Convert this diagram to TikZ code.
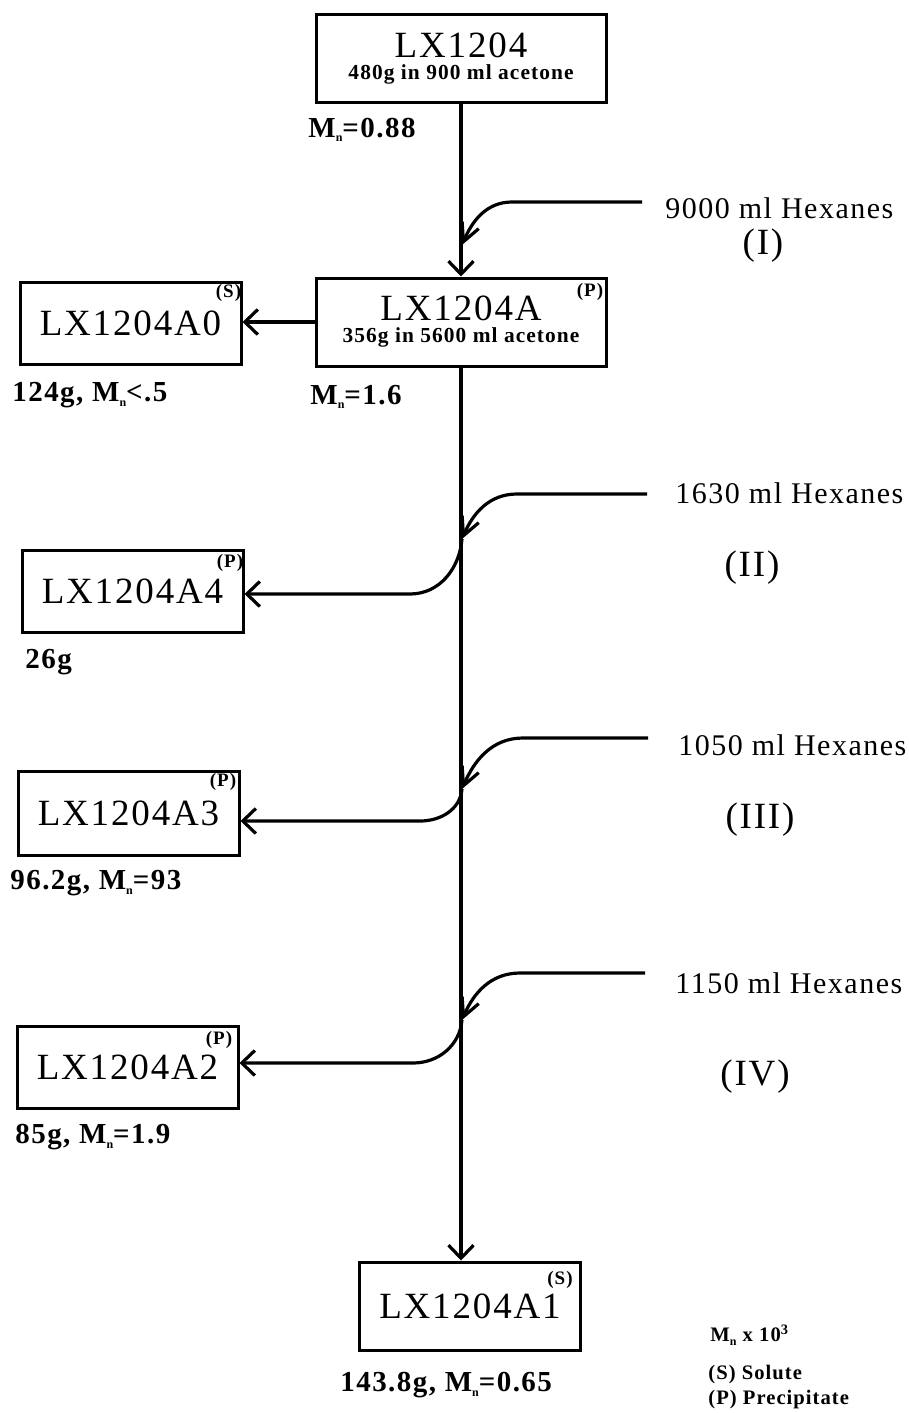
\documentclass[tikz,border=0pt]{standalone}
\usepackage{fontspec}
\setmainfont{Liberation Serif}[LetterSpace=5]
\usepackage{tikz}
\usetikzlibrary{arrows.meta,positioning,calc}
\newcommand{\Sz}[1]{\fontsize{#1}{#1}\selectfont}
\newcommand{\Mn}{M\raisebox{-0.35ex}{\Sz{6}n}}
\tikzset{
  frac/.style={draw, line width=1.5pt, inner sep=0pt, minimum width=110.5pt,
    minimum height=41pt, font=\Sz{18.5}},
  feed/.style={frac, minimum width=145pt, minimum height=44pt, align=center,
    font=\fontsize{18.5}{11}\selectfont},
  tag/.style={inner sep=0pt, anchor=north east, font=\bfseries\Sz{9.5}},
  note/.style={inner sep=0pt, anchor=west, font=\bfseries\Sz{14.5}},
  hexn/.style={inner sep=0pt, anchor=west, font=\Sz{15}},
  stage/.style={inner sep=0pt, font=\Sz{18.5}},
  legend/.style={inner sep=0pt, anchor=west, font=\bfseries\Sz{10.3}},
  flow/.style={line width=1.6pt, -{Straight Barb[length=6.5pt,width=12.5pt]}},
  addin/.style={line width=1.6pt, -{Straight Barb[length=9pt,width=9pt]}},
}

\begin{document}
\begin{tikzpicture}[x=0.5pt, y=-0.5pt]
  \useasboundingbox (0,0) rectangle (909,1413);

  \node[feed] (lx) at (461,59)
    {LX1204\\{\bfseries\Sz{10.7}480g in 900 ml acetone}};
  \node[feed] (lxA) at (461,322)
    {LX1204A\\{\bfseries\Sz{10.7}356g in 5600 ml acetone}};
  \node[frac] (a0) at (130.5,323) {LX1204A0};
  \node[frac] (a4) at (132.5,591) {LX1204A4};
  \node[frac, minimum height=42pt] (a3) at (128.5,813) {LX1204A3};
  \node[frac] (a2) at (127.5,1067) {LX1204A2};
  \node[frac, minimum height=44pt] (a1) at (470,1306) {LX1204A1};

  \node[tag] (lxAt) at ([xshift=-2pt,yshift=-3pt]lxA.north east) {(P)};
  \node[tag] (a0t) at ([xshift=-0.5pt,yshift=-1.6pt]a0.north east) {(S)};
  \node[tag] (a4t) at ([xshift=-0.5pt,yshift=-2.6pt]a4.north east) {(P)};
  \node[tag] (a3t) at ([xshift=-2pt,yshift=-1.6pt]a3.north east) {(P)};
  \node[tag] (a2t) at ([xshift=-3.5pt,yshift=-3.2pt]a2.north east) {(P)};
  \node[tag] (a1t) at ([xshift=-4.5pt,yshift=-5pt]a1.north east) {(S)};

  \node[note] (lxM) at (308,130) {\Mn=0.88};
  \node[note] (a0M) at (12,395) {124g, \Mn<.5};
  \node[note] (lxAM) at (310,397) {\Mn=1.6};
  \node[note] (a4M) at (25,662) {26g};
  \node[note] (a3M) at (10,883) {96.2g, \Mn=93};
  \node[note] (a2M) at (15,1137) {85g, \Mn=1.9};
  \node[note] (a1M) at (340,1385) {143.8g, \Mn=0.65};

  \node[hexn] (hx1l) at (665,208) {9000 ml Hexanes};
  \node[hexn] (hx2l) at (675,493) {1630 ml Hexanes};
  \node[hexn] (hx3l) at (678,745) {1050 ml Hexanes};
  \node[hexn] (hx4l) at (675,983) {1150 ml Hexanes};
  \node[stage] (s1) at (763,246) {(I)};
  \node[stage] (s2) at (752,568) {(II)};
  \node[stage] (s3) at (760,820) {(III)};
  \node[stage] (s4) at (755,1077) {(IV)};

  \node[legend] (leg1) at (710,1335) {\Mn{} x 10\textsuperscript{3}};
  \node[legend] (leg2) at (708,1375) {(S) Solute};
  \node[legend] (leg3) at (708,1400) {(P) Precipitate};

  \coordinate (hx1) at (642,202);
  \coordinate (hx2) at (647,494);
  \coordinate (hx3) at (648,738);
  \coordinate (hx4) at (645,973);
  \coordinate (t1) at (462,245);
  \coordinate (t2) at (462,539);
  \coordinate (t3) at (462,789);
  \coordinate (t4) at (462,1020);
  \coordinate (o2) at (410,594);
  \coordinate (o3) at (420,821);
  \coordinate (o4) at (413,1063);

  \draw[flow] (lx.south) -- (lxA.north);
  \draw[flow] (lxA.west) -- (lxA.west -| a0.east);
  \draw[flow] (lxA.south) -- (lxA.south |- a1.north);

  \draw[addin] (hx1) -- ++(-130,0) to[out=180,in=67] (t1);
  \draw[addin] (hx2) -- ++(-130,0) to[out=180,in=67] (t2);
  \draw[addin] (hx3) -- ++(-125,0) to[out=180,in=67] (t3);
  \draw[addin] (hx4) -- ++(-125,0) to[out=180,in=67] (t4);

  \draw[flow] (t2) to[out=-95,in=0] (o2) -- (o2 -| a4.east);
  \draw[flow] (t3) to[out=-95,in=0] (o3) -- (o3 -| a3.east);
  \draw[flow] (t4) to[out=-95,in=0] (o4) -- (o4 -| a2.east);
\end{tikzpicture}
\end{document}
